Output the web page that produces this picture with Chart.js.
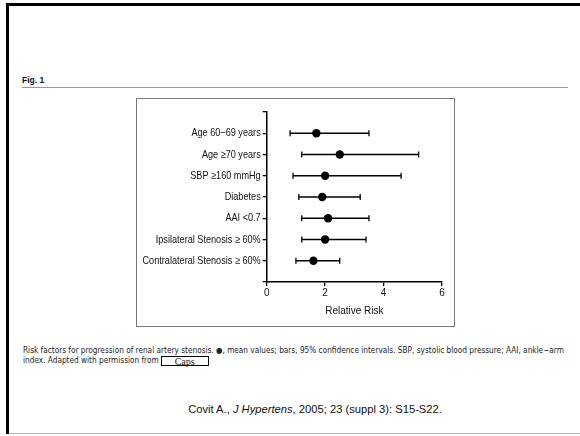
<!DOCTYPE html>
<html>
<head>
<meta charset="utf-8">
<script src="https://cdn.jsdelivr.net/npm/chart.js@4"></script>
<style>
  html,body{margin:0;padding:0;background:#fff;}
  body{width:580px;height:436px;position:relative;overflow:hidden;font-family:"Liberation Sans",Arial,sans-serif;}
  .abs{position:absolute;}
  #topb{left:6px;top:3px;width:574px;height:3px;background:#000;}
  #leftb{left:6px;top:3px;width:3px;height:431px;background:#000;}
  #botb{left:9px;top:433px;width:571px;height:1px;background:#bbb;}
  #fig{left:22px;top:75px;font-size:8.5px;font-weight:bold;color:#111;}
  #figline{left:22px;top:87px;width:546px;height:1px;background:#999;}
  #box{left:136px;top:98px;width:317px;height:227px;border:1px solid #777;}
  #cv{left:137px;top:99px;}
  #cap{left:23px;top:345px;font-family:"DejaVu Sans Condensed","Liberation Sans Narrow",sans-serif;font-size:8.2px;line-height:10px;color:#222;white-space:nowrap;}
  #caps{display:inline-block;border:1px solid #000;width:46px;height:8px;vertical-align:top;margin-left:2px;margin-top:1px;font-family:"Liberation Serif","Times New Roman",serif;font-size:10px;line-height:10px;text-align:center;}
  #cite{left:0;width:630px;top:403px;text-align:center;font-size:11.2px;color:#111;}
</style>
</head>
<body>
<div class="abs" id="topb"></div>
<div class="abs" id="leftb"></div>
<div class="abs" id="botb"></div>
<div class="abs" id="fig">Fig. 1</div>
<div class="abs" id="figline"></div>
<div class="abs" id="box"></div>
<canvas class="abs" id="cv" width="317" height="227"></canvas>
<div class="abs" id="cap">Risk factors for progression of renal artery stenosis. ●, mean values; bars, 95% confidence intervals. SBP, systolic blood pressure; AAI, ankle−arm<br>index. Adapted with permission from<span id="caps">Caps</span></div>
<div class="abs" id="cite">Covit A., <i>J Hypertens</i>, 2005; 23 (suppl 3): S15-S22.</div>
<script>
const categories = ["Age 60\u221269 years", "Age \u226570 years", "SBP \u2265160 mmHg", "Diabetes", "AAI <0.7", "Ipsilateral Stenosis \u2265 60%", "Contralateral Stenosis \u2265 60%"];
const meanRR = [1.7, 2.5, 2.0, 1.9, 2.1, 2.0, 1.6];
const lowerCI = [0.8, 1.2, 0.9, 1.1, 1.2, 1.2, 1.0];
const upperCI = [3.5, 5.2, 4.6, 3.2, 3.5, 3.4, 2.5];
const xTicks = [0, 2, 4, 6];

const FONT = "'Liberation Sans', Arial, sans-serif";

const datasets = [];
categories.forEach((c, i) => {
  datasets.push({
    type: 'scatter',
    data: [{x: lowerCI[i], y: i + 1}, {x: upperCI[i], y: i + 1}],
    showLine: true,
    borderColor: '#000',
    borderWidth: 1.3,
    pointStyle: 'line',
    rotation: 90,
    pointRadius: 3,
    pointBorderWidth: 1.3,
    pointBorderColor: '#000',
    pointBackgroundColor: '#000'
  });
});
datasets.push({
  type: 'scatter',
  data: meanRR.map((v, i) => ({x: v, y: i + 1})),
  pointStyle: 'circle',
  pointRadius: 4.2,
  pointBackgroundColor: '#000',
  pointBorderColor: '#000',
  borderWidth: 0,
  showLine: false
});

// Draws the category labels of the y scale in a horizontally condensed face
const condensedLabels = {
  id: 'condensedLabels',
  afterDraw(chart) {
    const ys = chart.scales.y;
    const ctx = chart.ctx;
    ctx.save();
    ctx.fillStyle = '#111';
    ctx.font = "11px " + FONT;
    ctx.textAlign = 'right';
    ctx.textBaseline = 'middle';
    const xRight = ys.right - 6;
    categories.forEach((c, i) => {
      const y = ys.getPixelForValue(i + 1);
      ctx.save();
      ctx.translate(xRight, y);
      ctx.scale(0.83, 1);
      ctx.fillText(c, 0, 0);
      ctx.restore();
    });
    ctx.restore();
  }
};

new Chart(document.getElementById('cv'), {
  type: 'scatter',
  data: { datasets },
  plugins: [condensedLabels],
  options: {
    responsive: false,
    animation: false,
    layout: { padding: { top: 13, right: 12, left: 0, bottom: 9 } },
    plugins: { legend: { display: false }, tooltip: { enabled: false } },
    scales: {
      x: {
        type: 'linear',
        min: 0, max: 6,
        afterBuildTicks: s => { s.ticks = xTicks.map(v => ({value: v})); },
        afterFit: s => { s.height = 35; },
        grid: { drawOnChartArea: false, drawTicks: true, tickLength: 4, color: '#000', lineWidth: 1.3 },
        border: { color: '#000', width: 1.5 },
        ticks: { color: '#111', font: { family: FONT, size: 10 }, padding: 1 },
        title: { display: true, text: 'Relative Risk', color: '#111', font: { family: FONT, size: 10 }, padding: { top: 4, bottom: 0 } }
      },
      y: {
        type: 'linear',
        min: 0, max: 8,
        reverse: true,
        afterBuildTicks: s => { s.ticks = [0,1,2,3,4,5,6,7,8].map(v => ({value: v})); },
        afterFit: s => { s.width = 129.7; },
        grid: { drawOnChartArea: false, drawTicks: true, tickLength: 4, color: '#000', lineWidth: 1.3 },
        border: { color: '#000', width: 1.5 },
        ticks: { display: false }
      }
    }
  }
});
</script>
</body>
</html>
